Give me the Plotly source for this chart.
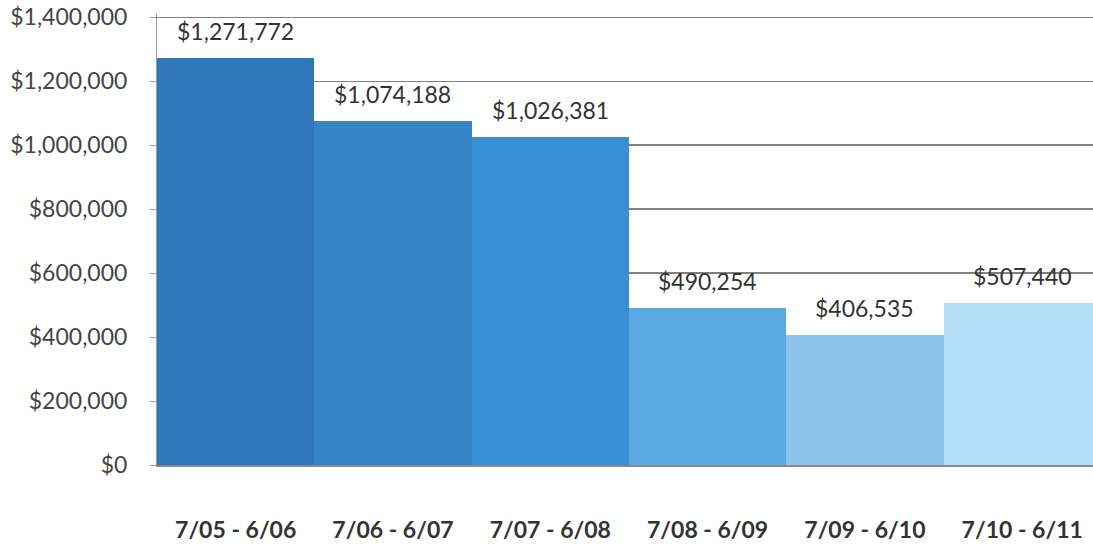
import plotly.graph_objects as go

categories = ["7/05 - 6/06", "7/06 - 6/07", "7/07 - 6/08", "7/08 - 6/09", "7/09 - 6/10", "7/10 - 6/11"]
values = [1271772, 1074188, 1026381, 490254, 406535, 507440]
bar_colors = ["#2f77b8", "#3484c6", "#3a8fd3", "#5aa9e2", "#8cc4ee", "#b6ddf8"]
y_tickvals = [0, 200000, 400000, 600000, 800000, 1000000, 1200000, 1400000]
y_ticktext = ["$0", "$200,000", "$400,000", "$600,000", "$800,000", "$1,000,000", "$1,200,000", "$1,400,000"]

FONT = "Lato"

fig = go.Figure()
fig.add_trace(go.Bar(
    x=categories, y=values,
    marker=dict(color=bar_colors, line=dict(width=0)),
    width=1.0,
    hoverinfo="skip",
))

for c, v in zip(categories, values):
    fig.add_annotation(
        x=c, y=v, text=f"${v:,}", showarrow=False,
        yanchor="bottom", yshift=11,
        font=dict(family=FONT, size=23, color="#333333"),
    )

fig.update_layout(
    width=1093, height=544,
    margin=dict(l=157, r=0, t=14, b=79),
    plot_bgcolor="white", paper_bgcolor="white",
    showlegend=False,
    bargap=0,
)
fig.update_xaxes(
    range=[-0.5, 5.45],
    showgrid=False,
    showline=True, linecolor="#8a8a8a", linewidth=1.5,
    ticks="", ticklabelstandoff=44,
    tickfont=dict(family=FONT, size=23, color="#333333", weight="bold"),
)
fig.update_yaxes(
    range=[0, 1410000],
    tickvals=y_tickvals, ticktext=y_ticktext,
    showgrid=True, gridcolor="#808080", gridwidth=1.3,
    zeroline=False,
    showline=True, linecolor="#9a9a9a", linewidth=1,
    ticks="outside", ticklen=6, tickcolor="#9a9a9a",
    ticklabelstandoff=18, ticklabeloverflow="allow",
    tickfont=dict(family=FONT, size=23, color="#444444"),
)

fig.write_html(
    "out.html",
    config={"displayModeBar": False, "staticPlot": True},
    post_script="document.body.style.margin='0';document.body.style.overflow='hidden';",
)
